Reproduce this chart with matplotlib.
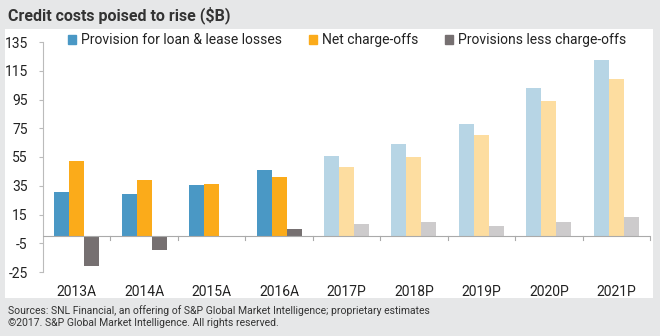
import matplotlib
matplotlib.use("Agg")
import matplotlib.pyplot as plt
import matplotlib.patches as mpatches
import numpy as np

plt.rcParams['font.family'] = ['Roboto', 'DejaVu Sans']

categories = ["2013A", "2014A", "2015A", "2016A", "2017P", "2018P", "2019P", "2020P", "2021P"]
series_names = ["Provision for loan & lease losses", "Net charge-offs", "Provisions less charge-offs"]
provision = [31, 29, 35.5, 46, 56, 64, 78, 103, 122.5]
charge_offs = [52, 39, 36, 41, 48, 55, 70.5, 94, 109]
prov_less = [-21, -10, -0.5, 5, 8.5, 9.5, 7, 9.5, 13.5]
projected = [False, False, False, False, True, True, True, True, True]
y_ticks = [-25, -5, 15, 35, 55, 75, 95, 115, 135]

dark_colors = ["#4a98c5", "#fbab1a", "#767071"]
light_colors = ["#b7d5e5", "#fddda0", "#cdcbcc"]

fig = plt.figure(figsize=(6.6, 3.36), dpi=100)
fig.patch.set_facecolor("#e6e7e8")
W, H = 660, 336
# white panel
panel = mpatches.Rectangle((5 / W, 1 - 298 / H), 648 / W, 269 / H,
                           transform=fig.transFigure, facecolor="white",
                           edgecolor="none", zorder=-5)
fig.patches.append(panel)

ax = fig.add_axes([43 / W, 1 - 272 / H, 607 / W, 230 / H])
ax.set_zorder(2)
ax.set_facecolor("none")

x = np.arange(len(categories))
bw = 0.222
for i, vals in enumerate([provision, charge_offs, prov_less]):
    cols = [light_colors[i] if p else dark_colors[i] for p in projected]
    ax.bar(x + (i - 1) * bw, vals, width=bw, color=cols, zorder=2)

ax.set_xlim(-0.5, len(categories) - 0.5)
ax.set_ylim(-25, 135)
ax.set_yticks(y_ticks)
ax.set_yticklabels([str(t) for t in y_ticks], fontsize=10, color="#222222")
ax.tick_params(axis="y", length=3, color="#bbbbbb", pad=8)

ax.set_xticks(x)
ax.set_xticklabels(categories, fontsize=10, color="#222222")
ax.tick_params(axis="x", length=0, pad=9)

for s in ["top", "right", "bottom"]:
    ax.spines[s].set_visible(False)
ax.spines["left"].set_color("#bbbbbb")
ax.spines["left"].set_linewidth(0.8)

# zero baseline with boundary ticks
ax.axhline(0, color="#aaaaaa", lw=0.8, zorder=3)
for b in np.arange(0.5, len(categories), 1.0):
    ax.plot([b, b], [0, -2.5], color="#aaaaaa", lw=0.8, zorder=3, clip_on=False)

handles = [mpatches.Patch(color=c) for c in dark_colors]
leg = fig.legend(handles, series_names, loc="center left", ncol=3, frameon=False,
                 bbox_to_anchor=(68 / W, 1 - 40 / H), fontsize=10,
                 handlelength=0.6, handleheight=0.6, handletextpad=0.35,
                 columnspacing=1.9, borderaxespad=0, borderpad=0)
for t in leg.get_texts():
    t.set_color("#222222")

fig.text(8 / W, 1 - 15 / H, "Credit costs poised to rise ($B)", fontsize=11.5,
         fontweight="bold", color="#333333", va="center", ha="left")
fig.text(8 / W, 1 - 311 / H,
         "Sources: SNL Financial, an offering of S&P Global Market Intelligence; proprietary estimates",
         fontsize=7.5, color="#333333", va="center", ha="left")
fig.text(8 / W, 1 - 323 / H,
         "\u00a92017. S&P Global Market Intelligence. All rights reserved.",
         fontsize=7.5, color="#333333", va="center", ha="left")

fig.savefig("out.png", dpi=100, facecolor=fig.get_facecolor())
